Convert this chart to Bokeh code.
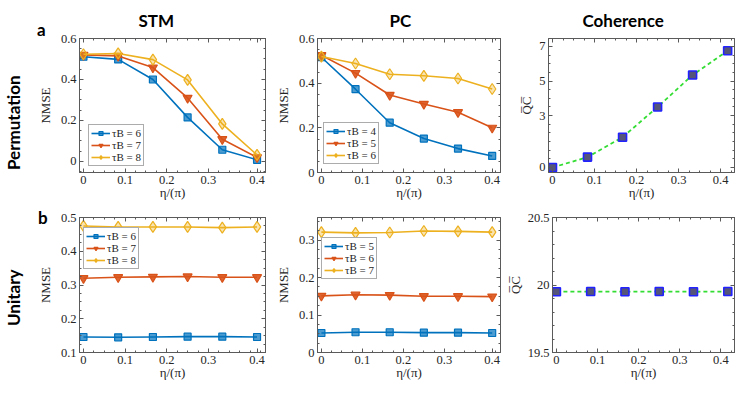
import numpy as np
from bokeh.plotting import figure
from bokeh.models import (Range1d, FixedTicker, LinearAxis, Legend, LegendItem,
                          Title, Div, NumeralTickFormatter)
from bokeh.layouts import row, column
from bokeh.embed import file_html
from bokeh.resources import INLINE

# ---------------- data ----------------
eta = [0.0, 0.0833, 0.1667, 0.25, 0.3333, 0.4167]
x_ticks_main = [0.0, 0.1, 0.2, 0.3, 0.4167]
x_ticks_coh = [0.0, 0.1, 0.2, 0.3, 0.4]

col_titles = ["STM", "PC", "Coherence"]
row_titles = ["Permutation", "Unitary"]
panel_letters = ["a", "b"]

# Permutation row
stm_perm_labels = ["τB = 6", "τB = 7", "τB = 8"]
stm_perm_6 = [0.511, 0.498, 0.400, 0.215, 0.057, 0.008]
stm_perm_7 = [0.520, 0.515, 0.458, 0.310, 0.108, 0.020]
stm_perm_8 = [0.523, 0.527, 0.497, 0.398, 0.183, 0.032]

pc_perm_labels = ["τB = 4", "τB = 5", "τB = 6"]
pc_perm_4 = [0.516, 0.373, 0.223, 0.152, 0.107, 0.074]
pc_perm_5 = [0.525, 0.445, 0.347, 0.307, 0.270, 0.200]
pc_perm_6 = [0.519, 0.488, 0.440, 0.433, 0.421, 0.374]

qc_perm = [0.0, 0.60, 1.75, 3.50, 5.35, 6.75]

# Unitary row
stm_uni_labels = ["τB = 6", "τB = 7", "τB = 8"]
stm_uni_6 = [0.146, 0.145, 0.146, 0.147, 0.147, 0.146]
stm_uni_7 = [0.320, 0.323, 0.324, 0.325, 0.323, 0.323]
stm_uni_8 = [0.475, 0.472, 0.472, 0.472, 0.470, 0.472]

pc_uni_labels = ["τB = 5", "τB = 6", "τB = 7"]
pc_uni_5 = [0.052, 0.054, 0.054, 0.053, 0.053, 0.052]
pc_uni_6 = [0.151, 0.154, 0.153, 0.150, 0.150, 0.149]
pc_uni_7 = [0.321, 0.319, 0.320, 0.324, 0.323, 0.321]

qc_uni = [19.950, 19.952, 19.950, 19.952, 19.950, 19.952]

# ---------------- style ----------------
BLUE, RED, YEL = "#0072BD", "#D95319", "#EDB120"
AX = "#5a5a5a"
TXT = "#262626"
SANS = "Lato"
SERIF = "serif"


def ticks(a, b, step):
    return [round(v, 4) for v in np.arange(a, b + step / 2, step)]


def make_fig(width, height, left, right, top, bottom, xr, yr,
             xticks, xminor, yticks, yminor, ylabel, ylab_standoff=5):
    p = figure(width=width, height=height, output_backend="svg",
               toolbar_location=None, title=None,
               x_range=Range1d(*xr), y_range=Range1d(*yr),
               min_border_left=left, min_border_right=right,
               min_border_top=top, min_border_bottom=bottom)
    p.xgrid.visible = False
    p.ygrid.visible = False
    p.outline_line_color = AX
    p.outline_line_width = 1
    p.background_fill_color = "white"
    p.border_fill_color = "white"

    def style_axis(ax, tk, minor):
        ax.ticker = FixedTicker(ticks=tk, minor_ticks=minor)
        ax.formatter = NumeralTickFormatter(format="0.[0]")
        ax.axis_line_color = AX
        ax.major_tick_line_color = AX
        ax.minor_tick_line_color = AX
        ax.major_tick_in = 4
        ax.major_tick_out = 0
        ax.minor_tick_in = 2
        ax.minor_tick_out = 0
        ax.major_label_text_font = SERIF
        ax.major_label_text_font_size = "12.5px"
        ax.major_label_text_color = TXT
        ax.major_label_standoff = 3
        ax.axis_label_text_font = SERIF
        ax.axis_label_text_font_size = "13px"
        ax.axis_label_text_font_style = "normal"
        ax.axis_label_text_color = TXT

    style_axis(p.xaxis[0], xticks, xminor)
    style_axis(p.yaxis[0], yticks, yminor)
    p.xaxis[0].axis_label = "η/(π)"
    p.xaxis[0].major_label_standoff = 3
    p.xaxis[0].axis_label_standoff = -2
    p.yaxis[0].axis_label = ylabel
    p.yaxis[0].axis_label_standoff = ylab_standoff

    for loc, tk, minor in (("right", yticks, yminor), ("above", xticks, xminor)):
        ax = LinearAxis()
        style_axis(ax, tk, minor)
        ax.major_label_text_font_size = "1px"
        ax.major_label_text_color = None
        ax.major_label_standoff = 0
        p.add_layout(ax, loc)
    return p


def add_series(p, y, color, marker, size, fill_alpha):
    l = p.line(eta, y, line_color=color, line_width=1.6)
    s = p.scatter(eta, y, marker=marker, size=size, line_color=color,
                  fill_color=color, fill_alpha=fill_alpha, line_width=1.2)
    return [l, s]


def add_legend(p, labels, rends, loc):
    items = [LegendItem(label=lab, renderers=r) for lab, r in zip(labels, rends)]
    lg = Legend(items=items, location=loc)
    lg.label_text_font = SERIF
    lg.label_text_font_size = "11px"
    lg.label_text_color = TXT
    lg.glyph_width = 19
    lg.glyph_height = 10
    lg.label_height = 10
    lg.label_standoff = 2
    lg.spacing = 0
    lg.padding = 2
    lg.margin = 0
    lg.border_line_color = AX
    lg.border_line_width = 1
    lg.background_fill_alpha = 1
    p.add_layout(lg)


def add_col_title(p, text, offset):
    p.add_layout(Title(text=text, align="left", offset=offset,
                       text_font=SANS, text_font_size="17px",
                       text_font_style="bold", text_color="black",
                       standoff=15), "above")


def text_div(text, left, top, rotate=False):
    st = {"position": "absolute", "left": f"{left}px", "top": f"{top}px",
          "font-family": SANS, "font-weight": "bold", "font-size": "17px",
          "line-height": "17px", "z-index": "10", "color": "black",
          "white-space": "nowrap", "margin": "0", "padding": "0"}
    if rotate:
        st["transform"] = "rotate(-90deg)"
        st["transform-origin"] = "0 0"
    return Div(text=text, styles=st)


XR = (-0.0095, 0.437)
XR3 = (-0.0095, 0.433)
xminor = ticks(0, 0.425, 0.025)

# ---------------- top row ----------------
H1 = 209
p1 = make_fig(272, H1, 79, 7, 38, 37, XR, (-0.054, 0.6),
              x_ticks_main, xminor, [0, 0.2, 0.4, 0.6], ticks(-0.05, 0.6, 0.05), "NMSE")
r1 = [add_series(p1, stm_perm_6, BLUE, "square", 7, 0.7),
      add_series(p1, stm_perm_7, RED, "inverted_triangle", 9, 0.9),
      add_series(p1, stm_perm_8, YEL, "diamond", 11, 0.35)]
add_legend(p1, stm_perm_labels, r1, (9, 6))
add_col_title(p1, col_titles[0], 59)

p2 = make_fig(232, H1, 43, 4, 38, 37, XR, (0, 0.6),
              x_ticks_main, xminor, [0, 0.2, 0.4, 0.6], ticks(0, 0.6, 0.05), "NMSE")
r2 = [add_series(p2, pc_perm_4, BLUE, "square", 7, 0.7),
      add_series(p2, pc_perm_5, RED, "inverted_triangle", 9, 0.9),
      add_series(p2, pc_perm_6, YEL, "diamond", 11, 0.35)]
add_legend(p2, pc_perm_labels, r2, (6, 8))
add_col_title(p2, col_titles[1], 72)

p3 = make_fig(236, H1, 44, 6, 38, 37, XR3, (-0.29, 7.46),
              x_ticks_coh, xminor, [0, 3, 5, 7], ticks(0, 7, 0.5), "Q\u0305C\u0305", 2)
p3.line(eta, qc_perm, line_color="#33dd33", line_width=1.8, line_dash="4 3")
p3.scatter(eta, qc_perm, marker="square", size=8, line_color="#2222ff",
           fill_color="#55557a", line_width=1.6)
add_col_title(p3, col_titles[2], 34)

# ---------------- bottom row ----------------
H2 = 181
p4 = make_fig(272, H2, 79, 7, 8, 38, XR, (0.1, 0.5),
              x_ticks_main, xminor, [0.1, 0.2, 0.3, 0.4, 0.5], ticks(0.1, 0.5, 0.025), "NMSE")
r4 = [add_series(p4, stm_uni_6, BLUE, "square", 7, 0.7),
      add_series(p4, stm_uni_7, RED, "inverted_triangle", 9, 0.9),
      add_series(p4, stm_uni_8, YEL, "diamond", 11, 0.35)]
add_legend(p4, stm_uni_labels, r4, (4, 83))

p5 = make_fig(232, H2, 43, 4, 8, 38, XR, (0, 0.36),
              x_ticks_main, xminor, [0, 0.1, 0.2, 0.3], ticks(0, 0.35, 0.025), "NMSE")
r5 = [add_series(p5, pc_uni_5, BLUE, "square", 7, 0.7),
      add_series(p5, pc_uni_6, RED, "inverted_triangle", 9, 0.9),
      add_series(p5, pc_uni_7, YEL, "diamond", 11, 0.35)]
add_legend(p5, pc_uni_labels, r5, (4, 73))

p6 = make_fig(236, H2, 44, 6, 8, 38, XR3, (19.5, 20.5),
              x_ticks_coh, xminor, [19.5, 20, 20.5], ticks(19.5, 20.5, 0.1), "Q\u0305C\u0305", 2)
p6.line(eta, qc_uni, line_color="#33dd33", line_width=1.8, line_dash="4 3")
p6.scatter(eta, qc_uni, marker="square", size=8, line_color="#2222ff",
           fill_color="#55557a", line_width=1.6)

divs = [text_div(row_titles[0], 5, 170, rotate=True),
        text_div(row_titles[1], 5, 326, rotate=True),
        text_div(panel_letters[0], 37, 21),
        text_div(panel_letters[1], 38, 209)]

layout = column(row(p1, p2, p3), row(p4, p5, p6), *divs)
open("out.html", "w").write(file_html(layout, INLINE))
